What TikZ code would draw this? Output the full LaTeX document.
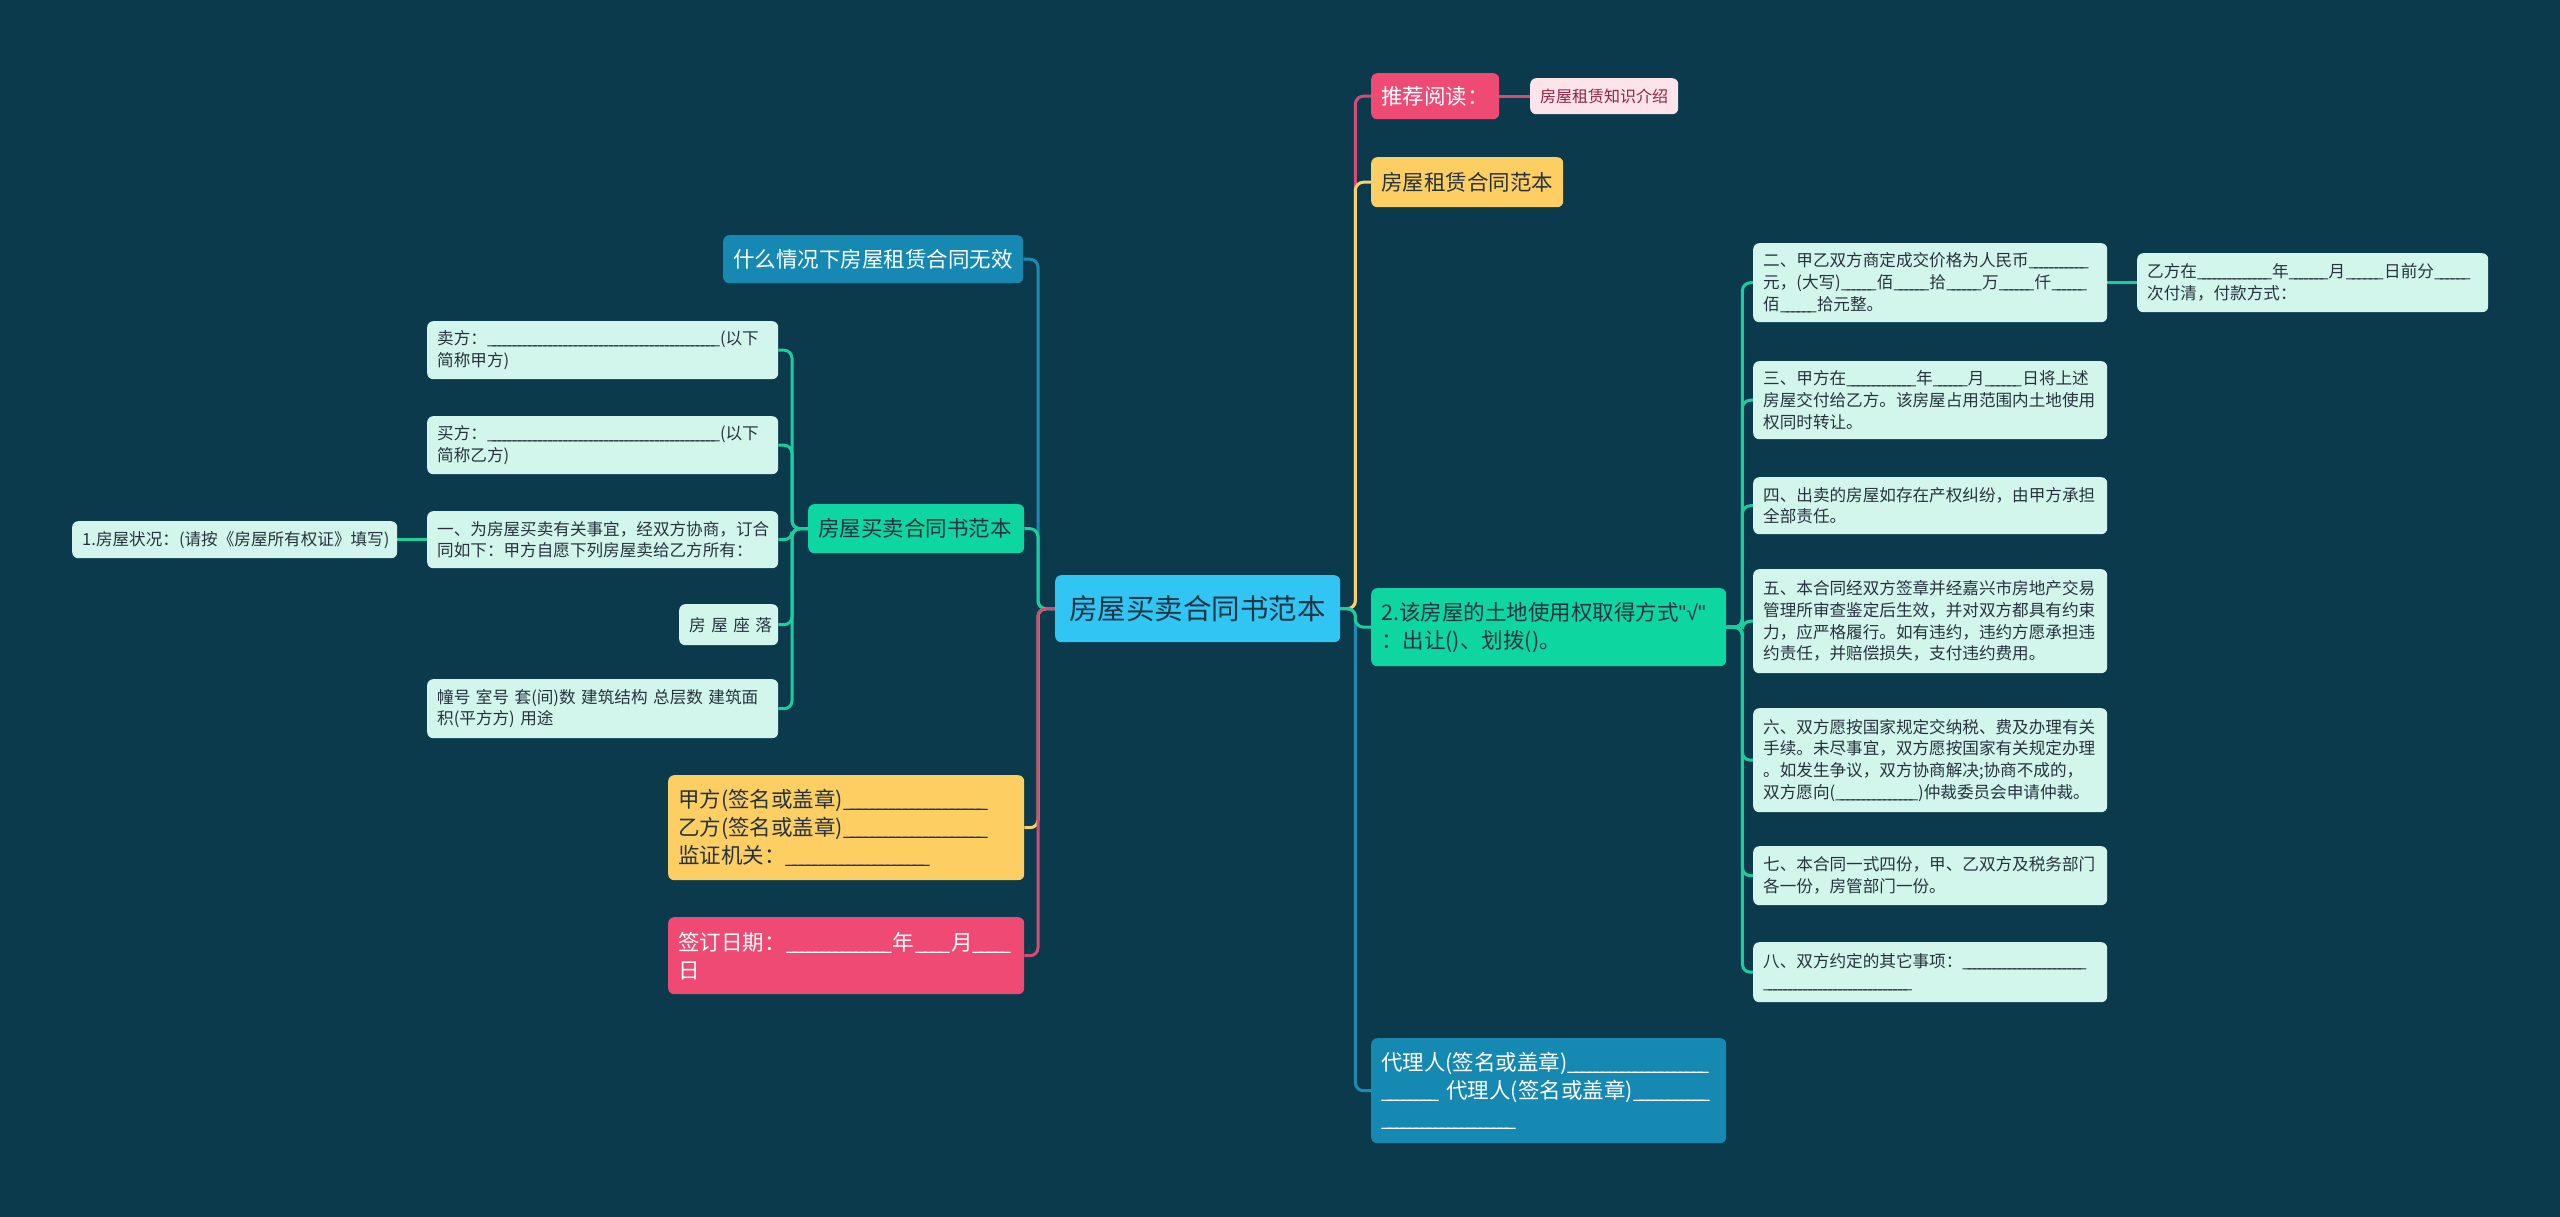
\documentclass[tikz,border=0pt]{standalone}
\usepackage{fontspec}
\setmainfont{Noto Sans CJK SC}
\newfontfamily\latinf{Liberation Sans}
\definecolor{bgc}{HTML}{0A3A4C}
\definecolor{cen}{HTML}{30C5F3}
\definecolor{cenT}{HTML}{1E3545}
\definecolor{pnk}{HTML}{EF4A73}
\definecolor{pnkL}{HTML}{D44C76}
\definecolor{ylw}{HTML}{FDCF62}
\definecolor{ylwL}{HTML}{F7D26F}
\definecolor{grn}{HTML}{0DD6A1}
\definecolor{grnL}{HTML}{1ACEA0}
\definecolor{blu}{HTML}{1689B3}
\definecolor{bluL}{HTML}{1D8AB2}
\definecolor{mint}{HTML}{D3F6EC}
\definecolor{dk}{HTML}{26333E}
\definecolor{lpk}{HTML}{FDE3EA}
\definecolor{lpkT}{HTML}{8E2443}
\newcommand\usc[1]{\xleaders\hbox to .3em{\_\hss}\hskip\dimexpr #1pt-.25em\relax\hspace{.25em}}
\pgfdeclarelayer{lines}
\pgfsetlayers{lines,main}
\begin{document}
\begin{tikzpicture}[x=1pt,y=-1pt,
  nbox/.style={anchor=north west, rounded corners=6pt, inner xsep=10pt, inner ysep=0pt, align=left},
  fL1/.style={font=\fontsize{21.5}{28}\selectfont},
  fM/.style={font=\fontsize{16.6}{21.7}\selectfont},
  mintbox/.style={nbox, fM, fill=mint, text=dk},
  lk/.style={line width=3pt, rounded corners=8pt},
]
\useasboundingbox (0,0) rectangle (2560,1217);
% central
\node[nbox, fill=cen, text=cenT, font=\fontsize{28.5}{34}\selectfont, inner xsep=14pt, text width=257pt, minimum height=67pt] (c) at (1055,575) {房屋买卖合同书范本};
% right level 1
\node[nbox, fL1, fill=pnk, text=white, text width=108pt, minimum height=46pt] (rec) at (1371,73) {推荐阅读：};
\node[nbox, fill=lpk, text=lpkT, font=\fontsize{16}{20}\selectfont, text width=128pt, minimum height=36pt] (recc) at (1530,78) {房屋租赁知识介绍};
\node[nbox, fL1, fill=ylw, text=dk, text width=172pt, minimum height=50pt] (zl) at (1371,157) {房屋租赁合同范本};
\node[nbox, fL1, fill=grn, text=dk, text width=335pt, minimum height=78pt] (land) at (1371,588) {\mbox{2.该房屋的土地使用权取得方式{\latinf"√"}}\\\mbox{：出让()、划拨()。}};
\node[nbox, fL1, fill=blu, text=white, text width=335pt, minimum height=105pt] (agent) at (1371,1038) {\mbox{代理人(签名或盖章)\usc{142}}\\\mbox{\usc{58}~代理人(签名或盖章)\usc{78}}\\\mbox{\usc{135}}};
% right leaves
\node[mintbox, text width=334pt, minimum height=79pt] (r2) at (1753,243) {\mbox{二、甲乙双方商定成交价格为人民币\usc{60}}\\\mbox{元，(大写)\usc{36}佰\usc{36}拾\usc{36}万\usc{36}仟\usc{36}}\\\mbox{佰\usc{37}拾元整。}};
\node[mintbox, text width=334pt, minimum height=78pt] (r3) at (1753,361) {\mbox{三、甲方在\usc{70}年\usc{35}月\usc{38}日将上述}\\房屋交付给乙方。该房屋占用范围内土地使用\\权同时转让。};
\node[mintbox, text width=334pt, minimum height=57pt] (r4) at (1753,477) {四、出卖的房屋如存在产权纠纷，由甲方承担\\全部责任。};
\node[mintbox, text width=334pt, minimum height=104pt] (r5) at (1753,569) {五、本合同经双方签章并经嘉兴市房地产交易\\管理所审查鉴定后生效，并对双方都具有约束\\力，应严格履行。如有违约，违约方愿承担违\\约责任，并赔偿损失，支付违约费用。};
\node[mintbox, text width=334pt, minimum height=104pt] (r6) at (1753,708) {六、双方愿按国家规定交纳税、费及办理有关\\手续。未尽事宜，双方愿按国家有关规定办理\\。如发生争议，双方协商解决;协商不成的，\\\mbox{双方愿向(\usc{83})仲裁委员会申请仲裁。}};
\node[mintbox, text width=334pt, minimum height=59pt] (r7) at (1753,846) {七、本合同一式四份，甲、乙双方及税务部门\\各一份，房管部门一份。};
\node[mintbox, text width=334pt, minimum height=60pt] (r8) at (1753,942) {\mbox{八、双方约定的其它事项：\usc{124}}\\\mbox{\usc{149}}};
\node[mintbox, text width=331pt, minimum height=59pt] (pay) at (2137,253) {\mbox{乙方在\usc{75}年\usc{40}月\usc{39}日前分\usc{37}}\\次付清，付款方式：};
% left level 1
\node[nbox, fL1, fill=blu, text=white, text width=280pt, minimum height=48pt] (inv) at (723,235) {什么情况下房屋租赁合同无效};
\node[nbox, fL1, fill=grn, text=dk, text width=196pt, minimum height=49pt] (sale) at (808,504) {房屋买卖合同书范本};
\node[nbox, fL1, fill=ylw, text=dk, text width=336pt, minimum height=105pt] (sign) at (668,775) {\mbox{甲方(签名或盖章)\usc{145}}\\\mbox{乙方(签名或盖章)\usc{145}}\\\mbox{监证机关：\usc{145}}};
\node[nbox, fL1, fill=pnk, text=white, text width=336pt, minimum height=77pt] (date) at (668,917) {\mbox{签订日期：\usc{107}年\usc{37}月\usc{39}}\\日};
% left leaves
\node[mintbox, text width=331pt, minimum height=58pt] (seller) at (427,321) {\mbox{卖方：\usc{233}(以下}\\简称甲方)};
\node[mintbox, text width=331pt, minimum height=58pt] (buyer) at (427,416) {\mbox{买方：\usc{233}(以下}\\简称乙方)};
\node[mintbox, text width=331pt, minimum height=57pt] (one) at (427,511) {\mbox{一、为房屋买卖有关事宜，经双方协商，订合}\\同如下：甲方自愿下列房屋卖给乙方所有：};
\node[mintbox, text width=79pt, minimum height=41pt] (loc) at (679,604) {\mbox{房\hspace{5.5pt}屋\hspace{5.5pt}座\hspace{5.5pt}落}};
\node[mintbox, text width=331pt, minimum height=59pt] (bld) at (427,679) {\mbox{幢号 室号 套(间)数 建筑结构 总层数 建筑面}\\\mbox{积(平方方) 用途}};
\node[mintbox, text width=305pt, minimum height=37pt] (status) at (72,521) {\mbox{1.房屋状况：(请按《房屋所有权证》填写)}};
% connectors
\begin{pgfonlayer}{lines}
\fill[bgc] (0,0) rectangle (2560,1217);
\draw[lk, pnkL] (c.east) -- ++(15,0) |- (rec.west);
\draw[lk, ylwL] (c.east) -- ++(15,0) |- (zl.west);
\draw[lk, bluL] (c.east) -- ++(15,0) |- (agent.west);
\draw[lk, grnL] (c.east) -- ++(15,0) |- (land.west);
\draw[lk, bluL] (c.west) -- ++(-17,0) |- (inv.east);
\draw[lk, grnL] (c.west) -- ++(-17,0) |- (sale.east);
\draw[lk, ylwL] (c.west) -- ++(-17,0) |- (sign.east);
\draw[lk, pnkL] (c.west) -- ++(-17,0) |- (date.east);
\foreach \n in {seller,buyer,one,loc,bld} \draw[lk, grnL] (sale.west) -- ++(-16,0) |- (\n.east);
\draw[lk, grnL] (one.west) -- (status.east);
\foreach \n in {r2,r3,r4,r5,r6,r7,r8} \draw[lk, grnL] (land.east) -- ++(16,0) |- (\n.west);
\draw[lk, grnL] (r2.east) -- (pay.west);
\draw[lk, pnkL] (rec.east) -- (recc.west);
\end{pgfonlayer}
\end{tikzpicture}
\end{document}
